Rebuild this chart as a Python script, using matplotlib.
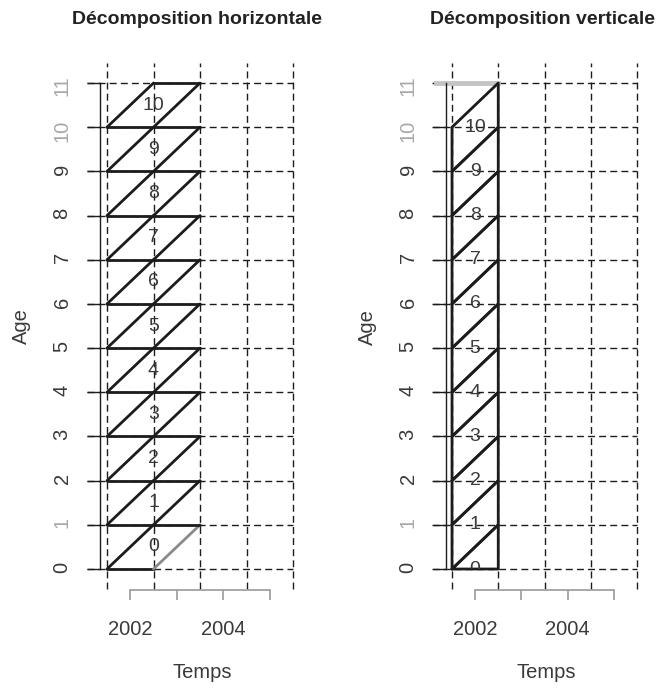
import numpy as np
import matplotlib
matplotlib.use("Agg")
import matplotlib.pyplot as plt

plt.rcParams['font.family'] = ['Liberation Sans', 'DejaVu Sans']

# --- data -----------------------------------------------------------------
ages = np.arange(0, 12)                       # age rows of the Lexis grid
age_labels = [str(a) for a in ages]
grid_years = np.array([2001.5, 2002.5, 2003.5, 2004.5, 2005.5])
tick_years = [2002, 2003, 2004, 2005]
year_labels = ["2002", "", "2004", ""]
cell_ids = np.arange(0, 11)                   # numbered cells
start_year = 2001.5                           # left edge of the decomposition

# --- layout helpers ----------------------------------------------------------
W, H = 656, 691
INK = "#1c1c1c"
TXT = "#3a3a3a"
fig = plt.figure(figsize=(W / 100, H / 100), dpi=100)


def make_axes(x0_px, dx_px, xlim, ylim, y0_px=569.0, dy_px=44.18):
    left = x0_px + (xlim[0] - start_year) * dx_px
    right = x0_px + (xlim[1] - start_year) * dx_px
    top = y0_px - ylim[1] * dy_px
    bottom = y0_px - ylim[0] * dy_px
    ax = fig.add_axes([left / W, 1 - bottom / H, (right - left) / W, (bottom - top) / H])
    ax.set_xlim(*xlim)
    ax.set_ylim(*ylim)
    ax.patch.set_alpha(0)
    return ax


def lexis_frame(ax, yaxis_x):
    # dashed Lexis grid
    for gx in grid_years:
        ax.plot([gx, gx], [-0.45, 11.45], ls=(0, (5, 3)), lw=1.0, color=INK,
                clip_on=False, zorder=1)
    for a in ages:
        ax.plot([grid_years[0] - 0.43, grid_years[-1]], [a, a], ls=(0, (5, 3)),
                lw=1.0, color=INK, clip_on=False, zorder=1)

    for s in ("top", "right"):
        ax.spines[s].set_visible(False)
    # age axis
    ax.spines["left"].set_position(("data", yaxis_x))
    ax.spines["left"].set_bounds(0, 11)
    ax.spines["left"].set_linewidth(1.0)
    ax.spines["left"].set_color(INK)
    ax.set_yticks(ages)
    ax.set_yticklabels(age_labels)
    ax.tick_params(axis="y", length=9.5, width=1.0, color=INK, labelrotation=90,
                   pad=11, labelsize=14.5, labelcolor=TXT)
    for i, lab in enumerate(ax.get_yticklabels()):
        if ages[i] in (1, 10, 11):
            lab.set_color("#a8a8a8")
    # time axis
    ax.spines["bottom"].set_position(("data", -0.475))
    ax.spines["bottom"].set_bounds(tick_years[0], tick_years[-1])
    ax.spines["bottom"].set_color("#9a9a9a")
    ax.spines["bottom"].set_linewidth(1.2)
    ax.set_xticks(tick_years)
    ax.set_xticklabels(year_labels)
    ax.tick_params(axis="x", length=7.5, width=1.2, color="#9a9a9a", pad=14,
                   labelsize=14.5, labelcolor=TXT)


# --- left: horizontal decomposition -------------------------------------
axL = make_axes(107.0, 46.5, (2000.5, 2006.0), (-1.0, 12.0))
lexis_frame(axL, 2001.35)
for a in cell_ids:
    t0 = start_year
    verts = [(t0, a), (t0 + 1, a), (t0 + 2, a + 1), (t0 + 1, a + 1), (t0, a)]
    for j in range(4):
        (xa, ya), (xb, yb) = verts[j], verts[j + 1]
        col = "#8a8a8a" if (a == 0 and j == 1) else INK
        axL.plot([xa, xb], [ya, yb], color=col, lw=2.0, solid_capstyle="round",
                 clip_on=False, zorder=3)
    axL.text(t0 + 1, a + 0.5, str(a), ha="center", va="center", fontsize=14,
             color=TXT, zorder=4)

# --- right: vertical decomposition ---------------------------------------
axR = make_axes(452.0, 46.25, (2000.5, 2005.85), (-1.0, 12.0))
lexis_frame(axR, 2001.37)
axR.plot([2001.15, start_year + 1], [11, 11], color="#c4c4c4", lw=3.5,
         clip_on=False, zorder=2)
clip_rect = plt.Rectangle((start_year - 0.2, 0), 1.4, 11.5, transform=axR.transData)
for k in cell_ids:
    t0 = start_year
    xs = np.array([t0, t0 + 1, t0 + 1, t0, t0])
    ys = np.array([k - 1, k, k + 1, k, k - 1], dtype=float)
    ys = np.maximum(ys, 0)
    axR.plot(xs, ys, color=INK, lw=2.0, solid_capstyle="round", clip_on=False,
             zorder=3)
    t = axR.text(t0 + 0.5, k, str(k), ha="center", va="center", fontsize=14,
                 color=TXT, zorder=4, clip_on=True)
    t.set_clip_path(clip_rect)

# --- titles and axis names -----------------------------------------------
def ftext(xp, yp, s, **kw):
    fig.text(xp / W, 1 - yp / H, s, ha="center", va="center", **kw)

ftext(197, 20, "Décomposition horizontale", fontsize=14, fontweight="bold", color="#222222")
ftext(542, 20, "Décomposition verticale", fontsize=14, fontweight="bold", color="#222222")
ftext(21, 326, "Age", fontsize=14.5, rotation=90, color=TXT)
ftext(367, 327, "Age", fontsize=14.5, rotation=90, color=TXT)
ftext(202, 673, "Temps", fontsize=14.5, color=TXT)
ftext(546, 673, "Temps", fontsize=14.5, color=TXT)

fig.savefig("out.png", dpi=100)
